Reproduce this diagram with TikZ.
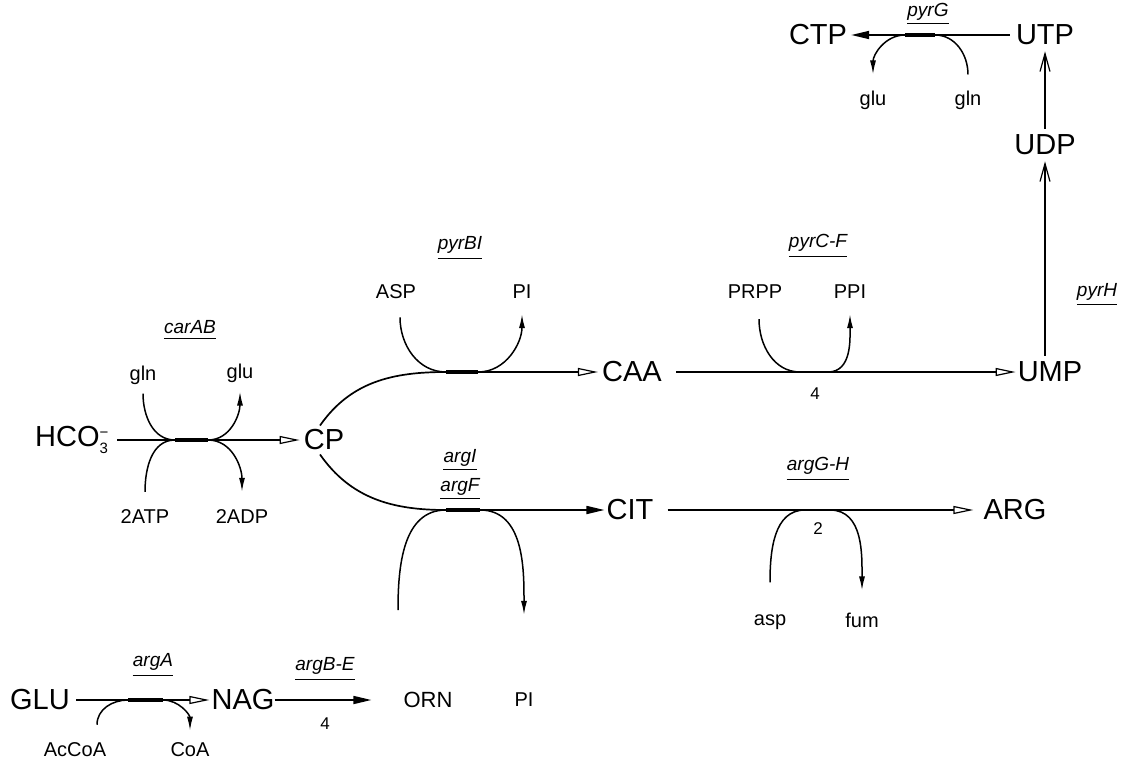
\documentclass[tikz,border=0pt]{standalone}
\usepackage{fontspec}
\setmainfont{Liberation Sans}
\usetikzlibrary{arrows.meta}
\newcommand\lblsz{\fontsize{15}{15}\selectfont}
\begin{document}
\begin{tikzpicture}[x=1pt,y=-1pt,
  big/.style={font=\fontsize{29}{29}\selectfont, inner sep=0pt},
  mid/.style={font=\fontsize{22}{22}\selectfont, inner sep=0pt},
  small/.style={font=\fontsize{20}{20}\selectfont, inner sep=0pt},
  gene/.style={font=\fontsize{19}{19}\selectfont\itshape, inner sep=0pt},
  num/.style={font=\fontsize{17}{17}\selectfont, inner sep=0pt},
  rxn/.style={line width=1.7pt},
  side/.style={line width=1.5pt},
  opentip/.style={-{Triangle[open,length=20pt,width=8pt,line width=1.2pt]}},
  filltip/.style={-{Triangle[length=18pt,width=8pt]}},
  sidetip/.style={-{Latex[length=14pt,width=6pt]}},
  barbtip/.style={-{Straight Barb[length=18pt,width=10pt,line width=1.2pt]}},
  junc/.style={line width=3.6pt},
  ul/.style={line width=1.3pt}
]
\useasboundingbox (0,0) rectangle (1133,763);

% ---------- top: UTP -> CTP ----------
\node[big] (CTP) at (818,35) {CTP};
\node[big] (UTP) at (1045,35) {UTP};
\node[big] (UDP) at (1045,145) {UDP};
\node[small] (gluT) at (873,100) {glu};
\node[small] (glnT) at (968,100) {gln};
\node[gene] (pyrG) at (928,12) {pyrG};
\draw[ul] ([yshift=-3pt]pyrG.south west) -- ([yshift=-3pt]pyrG.south east);
\coordinate (jG1) at (905,35);
\coordinate (jG2) at (935,35);
\draw[rxn,filltip] ([xshift=-6pt]UTP.west) -- ([xshift=4pt]CTP.east);
\draw[junc] (jG1) -- (jG2);
\draw[side] ([yshift=16pt]glnT.north) to[out=90,in=0] (jG2);
\draw[side,sidetip] (jG1) to[out=180,in=90] ([yshift=16pt]gluT.north);
\draw[rxn,barbtip] ([yshift=6pt]UDP.north) -- ([yshift=-6pt]UTP.south);

% ---------- UMP -> UDP ----------
\node[big] (UMP) at (1050,372) {UMP};
\node[gene] (pyrH) at (1097,292) {pyrH};
\draw[ul] ([yshift=-4pt]pyrH.south west) -- ([yshift=-4pt]pyrH.south east);
\draw[rxn,barbtip] ([yshift=6pt]UMP.north -| UDP.south) -- ([yshift=-6pt]UDP.south);

% ---------- carAB ----------
\node[big] (HCO) at (72,440) {HCO$_{\mbox{\lblsz 3}}^{\mbox{\lblsz −}}$};
\node[big] (CP) at (324,440) {CP};
\node[gene] (carAB) at (190,327) {carAB};
\draw[ul] ([yshift=-5pt]carAB.south west) -- ([yshift=-5pt]carAB.south east);
\node[small] (glnA) at (143,375) {gln};
\node[small] (gluA) at (240,373) {glu};
\node[small] (ATP) at (145,517) {2ATP};
\node[small] (ADP) at (242,517) {2ADP};
\coordinate (jC1) at (175,440);
\coordinate (jC2) at (208,440);
\draw[rxn,opentip] ([xshift=8pt]HCO.east) -- ([xshift=-4pt]CP.west);
\draw[junc] (jC1) -- (jC2);
\draw[side] ([yshift=-9pt]glnA.south) to[out=-90,in=180] (jC1);
\draw[side,sidetip] (jC2) to[out=0,in=-90] ([yshift=-9pt]gluA.south);
\draw[side] ([yshift=18pt]ATP.north) to[out=90,in=180] (jC1);
\draw[side,sidetip] (jC2) to[out=0,in=90] ([yshift=18pt]ADP.north);

% ---------- pyrBI ----------
\node[big] (CAA) at (632,372) {CAA};
\node[gene] (pyrBI) at (460,245) {pyrBI};
\draw[ul] ([yshift=-5pt]pyrBI.south west) -- ([yshift=-5pt]pyrBI.south east);
\node[small] (ASP) at (396,292) {ASP};
\node[small] (PI1) at (522,292) {PI};
\coordinate (jB1) at (446,372);
\coordinate (jB2) at (478,372);
\draw[rxn] ([shift={(-4pt,4pt)}]CP.north) to[out=55,in=180] (jB1);
\draw[rxn,opentip] (jB1) -- ([xshift=-4pt]CAA.west);
\draw[junc] (jB1) -- (jB2);
\draw[side] ([shift={(4pt,-18pt)}]ASP.south) to[out=-90,in=180] (jB1);
\draw[side,sidetip] (jB2) to[out=0,in=-90] ([yshift=-15pt]PI1.south);

% ---------- pyrC-F ----------
\node[gene] (pyrCF) at (818,243) {pyrC-F};
\draw[ul] ([yshift=-5pt]pyrCF.south west) -- ([yshift=-5pt]pyrCF.south east);
\node[small] (PRPP) at (755,292) {PRPP};
\node[small] (PPI) at (850,292) {PPI};
\node[num] (n4a) at (815,394) {4};
\coordinate (jD1) at (800,372);
\coordinate (jD2) at (828,372);
\draw[rxn,opentip] ([xshift=14pt]CAA.east) -- ([xshift=-2pt]UMP.west);
\draw[line width=2.6pt] (jD1) -- (jD2);
\draw[side] ([shift={(4pt,-20pt)}]PRPP.south) to[out=-90,in=180] (jD1);
\draw[side,sidetip] (jD2) to[out=0,in=-90] ([yshift=-15pt]PPI.south);

% ---------- argI argF ----------
\node[big] (CIT) at (630,510) {CIT};
\node[gene] (argI) at (460,458) {argI};
\draw[ul] ([yshift=-3pt]argI.south west) -- ([yshift=-3pt]argI.south east);
\node[gene] (argF) at (460,487) {argF};
\draw[ul] ([yshift=-3pt]argF.south west) -- ([yshift=-3pt]argF.south east);
\node[mid] (ORN) at (428,700) {ORN};
\node[small] (PI2) at (524,700) {PI};
\coordinate (jF1) at (446,510);
\coordinate (jF2) at (480,510);
\draw[rxn] ([shift={(-4pt,-4pt)}]CP.south) to[out=-55,in=180] (jF1);
\draw[rxn,filltip] (jF1) -- ([xshift=-2pt]CIT.west);
\draw[junc] (jF1) -- (jF2);
\draw[side] ([shift={(-30pt,82pt)}]ORN.north) to[out=90,in=180] (jF1);
\draw[side,sidetip] (jF2) to[out=0,in=90] ([yshift=78pt]PI2.north);

% ---------- argG-H ----------
\node[big] (ARG) at (1015,510) {ARG};
\node[gene] (argGH) at (818,466) {argG-H};
\draw[ul] ([yshift=-5pt]argGH.south west) -- ([yshift=-5pt]argGH.south east);
\node[num] (n2) at (818,529) {2};
\node[small] (asp) at (770,622) {asp};
\node[small] (fum) at (862,620) {fum};
\coordinate (jH1) at (805,510);
\coordinate (jH2) at (830,510);
\draw[rxn,opentip] ([xshift=14pt]CIT.east) -- ([xshift=-10pt]ARG.west);
\draw[line width=2.6pt] (jH1) -- (jH2);
\draw[side] ([yshift=32pt]asp.north) to[out=90,in=180] (jH1);
\draw[side,sidetip] (jH2) to[out=0,in=90] ([yshift=22pt]fum.north);

% ---------- argA / argB-E ----------
\node[big] (GLU) at (40,700) {GLU};
\node[big] (NAG) at (243,700) {NAG};
\node[gene] (argA) at (153,662) {argA};
\draw[ul] ([yshift=-5pt]argA.south west) -- ([yshift=-5pt]argA.south east);
\node[small] (AcCoA) at (75,750) {AcCoA};
\node[small] (CoA) at (190,750) {CoA};
\coordinate (jA1) at (128,700);
\coordinate (jA2) at (163,700);
\draw[rxn,opentip] ([xshift=6pt]GLU.east) -- ([xshift=-2pt]NAG.west);
\draw[junc] (jA1) -- (jA2);
\draw[side] ([shift={(22pt,18pt)}]AcCoA.north) to[out=90,in=180] (jA1);
\draw[side,sidetip] (jA2) to[out=0,in=90] ([yshift=12pt]CoA.north);
\node[gene] (argBE) at (325,666) {argB-E};
\draw[ul] ([yshift=-5pt]argBE.south west) -- ([yshift=-5pt]argBE.south east);
\node[num] (n4b) at (325,724) {4};
\draw[rxn,filltip,shorten >=32pt] (NAG.east) -- (ORN.west);
\end{tikzpicture}
\end{document}
